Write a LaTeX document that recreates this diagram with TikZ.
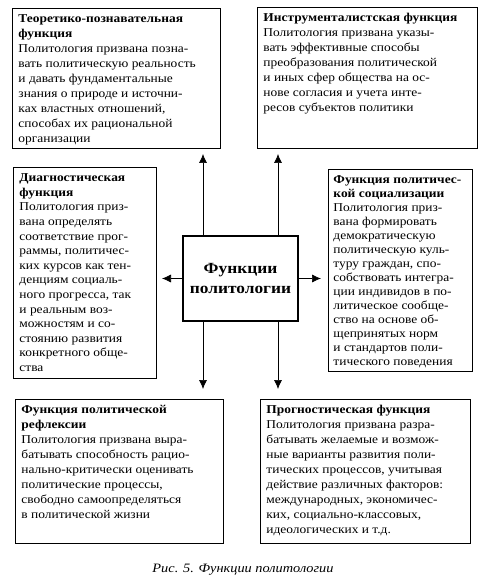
\documentclass[tikz,border=0pt]{standalone}
\usepackage{fontspec}
\setmainfont[FakeStretch=1.12]{Liberation Serif}
\usetikzlibrary{arrows.meta}

% body of a function box: fixed height, text at the top
\newcommand{\fbody}[3]{\parbox[t][#1][t]{#2}{\begin{tabular}[t]{@{}l@{}}#3\end{tabular}}}

\tikzset{
  fbox/.style={draw, line width=0.9pt, anchor=north west, inner xsep=6pt, inner ysep=4pt, font=\fontsize{12}{15}\selectfont},
  arr/.style={-{Latex[length=9pt,width=8pt]}, line width=0.7pt}
}

\begin{document}
\begin{tikzpicture}[x=1pt, y=-1pt]
            \useasboundingbox (0,0) rectangle (485,585);
            % the six functions
            \node[fbox] (teor) at (12,8) {\fbody{132pt}{196pt}{\textbf{Теоретико-познавательная}\\ \textbf{функция}\\ Политология призвана позна-\\ вать политическую реальность\\ и давать фундаментальные\\ знания о природе и источни-\\ ках властных отношений,\\ способах их рациональной\\ организации}};
            \node[fbox] (instr) at (257,7) {\fbody{133pt}{208pt}{\textbf{Инструменталистская функция}\\ Политология призвана указы-\\ вать эффективные способы\\ преобразования политической\\ и иных сфер общества на ос-\\ нове согласия и учета инте-\\ ресов субъектов политики}};
            \node[fbox, font=\fontsize{12}{14.6}\selectfont] (diag) at (13,167) {\fbody{203pt}{131pt}{\textbf{Диагностическая}\\ \textbf{функция}\\ Политология приз-\\ вана определять\\ соответствие прог-\\ раммы, политичес-\\ ких курсов как тен-\\ денциям социаль-\\ ного прогресса, так\\ и реальным воз-\\ можностям и со-\\ стоянию развития\\ конкретного обще-\\ ства}};
            \node[fbox, font=\fontsize{12}{14}\selectfont, inner xsep=5pt] (soc) at (328,169) {\fbody{194pt}{134pt}{\textbf{Функция политичес-}\\ \textbf{кой социализации}\\ Политология приз-\\ вана формировать\\ демократическую\\ политическую куль-\\ туру граждан, спо-\\ собствовать интегра-\\ ции индивидов в по-\\ литическое сообще-\\ ство на основе об-\\ щепринятых норм\\ и стандартов поли-\\ тического поведения}};
            \node[fbox] (refl) at (15,399) {\fbody{136pt}{196pt}{\textbf{Функция политической}\\ \textbf{рефлексии}\\ Политология призвана выра-\\ батывать способность рацио-\\ нально-критически оценивать\\ политические процессы,\\ свободно самоопределяться\\ в политической жизни}};
            \node[fbox] (prog) at (260,399) {\fbody{136pt}{198pt}{\textbf{Прогностическая функция}\\ Политология призвана разра-\\ батывать желаемые и возмож-\\ ные варианты развития поли-\\ тических процессов, учитывая\\ действие различных факторов:\\ международных, экономичес-\\ ких, социально-классовых,\\ идеологических и т.д.}};

            % centre
            \node[draw, line width=2pt, minimum width=115pt, minimum height=85pt, align=center, font=\bfseries\fontsize{15.5}{20}\selectfont] (center) at (240.5,278.5) {Функции\\политологии};

            \coordinate (upL) at (203,154);
            \coordinate (upR) at (278,154);
            \coordinate (downL) at (203,389);
            \coordinate (downR) at (278,389);
            \coordinate (leftTip) at (162,278.5);
            \coordinate (rightTip) at (321,278.5);

            \draw[arr] (center.north -| upL) -- (upL);
            \draw[arr] (center.north -| upR) -- (upR);
            \draw[arr] (center.south -| downL) -- (downL);
            \draw[arr] (center.south -| downR) -- (downR);
            \draw[arr] (center.west) -- (leftTip);
            \draw[arr] (center.east) -- (rightTip);

            \node[font=\itshape\fontsize{12.8}{15}\selectfont] (caption) at (243,570) {Рис. 5. Функции политологии};
        \end{tikzpicture}
\end{document}
